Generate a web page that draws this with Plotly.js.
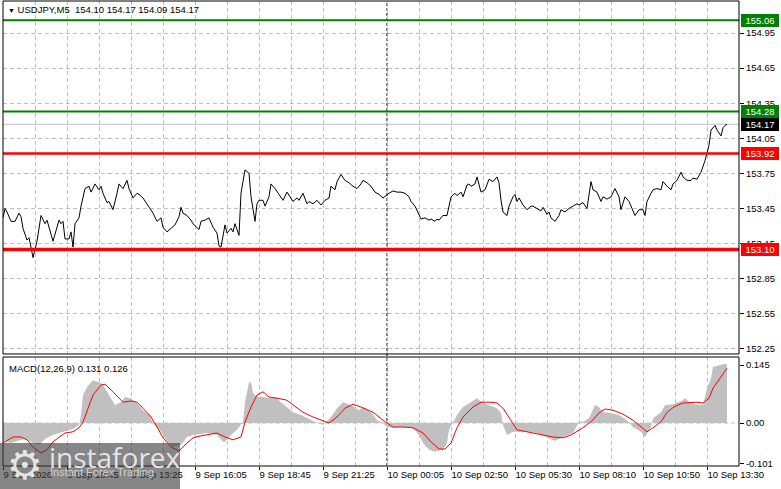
<!DOCTYPE html>
<html>
<head>
<meta charset="utf-8">
<script src="https://cdn.plot.ly/plotly-3.0.1.min.js"></script>
<style>
  html, body { margin: 0; padding: 0; background: #fff; }
  #chart { width: 781px; height: 489px; }
</style>
</head>
<body>
<div id="chart"></div>
<script>
// USDJPY M5 with MACD(12,26,9) underneath
// bars are counted from the first candle on screen (9 Sep 08:05)

const symbolTitle = 'USDJPY,M5  154.10 154.17 154.09 154.17';
const macdTitle = 'MACD(12,26,9) 0.131 0.126';

// close prices
const priceBar = [0, 1, 2, 4, 6, 8, 9, 10, 12, 13, 14, 15, 17, 18, 19, 21, 22, 24, 25, 28, 29, 30, 31, 33, 34, 35, 36, 38, 39, 41,
  43, 44, 46, 48, 49, 50, 52, 53, 55, 57, 58, 60, 62, 63, 65, 67, 68, 70, 72, 73, 75, 77, 79, 80, 82, 84, 86, 88, 89, 90,
  92, 94, 95, 98, 99, 101, 103, 105, 107, 108, 109, 111, 112, 114, 115, 116, 118, 119, 121, 123, 124, 126, 127, 128, 130, 131, 133, 134, 136, 138,
  140, 142, 144, 145, 147, 148, 150, 152, 153, 155, 157, 159, 161, 163, 164, 166, 167, 169, 171, 173, 175, 177, 179, 180, 182, 184, 186, 188, 190, 192,
  193, 195, 197, 199, 201, 203, 204, 206, 208, 209, 211, 213, 214, 216, 217, 218, 220, 222, 224, 226, 227, 229, 230, 232, 233, 234, 236, 237, 239, 241,
  243, 245, 247, 248, 249, 250, 252, 253, 255, 256, 257, 258, 260, 262, 264, 265, 267, 269, 270, 272, 273, 274, 276, 278, 279, 281, 283, 285, 287, 288,
  290, 292, 294, 295, 297, 299, 300, 302, 304, 306, 308, 309, 311, 313, 314, 316, 318, 320, 321, 322, 324, 325, 327, 329, 330, 332, 334, 335, 337, 339,
  340, 342, 344, 345, 347, 349, 351, 353, 354, 356, 357, 359, 360, 361, 362];
const priceClose = [153.37, 153.45, 153.42, 153.34, 153.34, 153.41, 153.38, 153.28, 153.18, 153.20, 153.12, 153.03, 153.17, 153.27, 153.39, 153.32, 153.35, 153.23, 153.17, 153.35, 153.32, 153.34, 153.19, 153.19, 153.25, 153.12, 153.32, 153.37, 153.47, 153.62,
  153.64, 153.59, 153.66, 153.61, 153.64, 153.58, 153.50, 153.51, 153.44, 153.58, 153.66, 153.62, 153.69, 153.62, 153.54, 153.58, 153.57, 153.54, 153.49, 153.47, 153.41, 153.34, 153.37, 153.29, 153.25, 153.28, 153.31, 153.38, 153.46, 153.41,
  153.39, 153.35, 153.32, 153.27, 153.34, 153.35, 153.37, 153.29, 153.24, 153.13, 153.12, 153.31, 153.24, 153.28, 153.25, 153.32, 153.22, 153.58, 153.78, 153.75, 153.55, 153.34, 153.49, 153.52, 153.52, 153.47, 153.55, 153.66, 153.62, 153.57,
  153.52, 153.59, 153.53, 153.51, 153.54, 153.52, 153.58, 153.49, 153.51, 153.49, 153.52, 153.48, 153.52, 153.54, 153.64, 153.61, 153.68, 153.74, 153.69, 153.67, 153.64, 153.62, 153.66, 153.69, 153.67, 153.64, 153.59, 153.57, 153.54, 153.57,
  153.58, 153.60, 153.59, 153.59, 153.58, 153.55, 153.51, 153.47, 153.39, 153.36, 153.37, 153.35, 153.36, 153.34, 153.36, 153.35, 153.39, 153.39, 153.55, 153.58, 153.56, 153.59, 153.55, 153.65, 153.66, 153.64, 153.66, 153.72, 153.59, 153.61,
  153.70, 153.68, 153.72, 153.67, 153.52, 153.42, 153.39, 153.47, 153.55, 153.57, 153.51, 153.54, 153.48, 153.44, 153.47, 153.47, 153.45, 153.43, 153.46, 153.40, 153.42, 153.37, 153.34, 153.39, 153.44, 153.42, 153.45, 153.47, 153.49, 153.48,
  153.50, 153.45, 153.68, 153.61, 153.59, 153.51, 153.55, 153.53, 153.55, 153.62, 153.55, 153.44, 153.55, 153.51, 153.47, 153.39, 153.44, 153.44, 153.39, 153.51, 153.58, 153.61, 153.62, 153.61, 153.68, 153.64, 153.61, 153.66, 153.69, 153.76,
  153.72, 153.69, 153.69, 153.71, 153.70, 153.76, 153.86, 153.99, 154.12, 154.16, 154.12, 154.07, 154.14, 154.16, 154.17];

// MACD main (histogram)
const histBar = [0, 4, 7, 11, 15, 18, 21, 25, 28, 31, 35, 38, 39, 40, 42, 45, 49, 51, 54, 56, 59, 61, 64, 67, 70, 73, 75, 79, 82, 85,
  89, 92, 95, 102, 107, 110, 111, 114, 117, 120, 121, 123, 124, 125, 127, 130, 134, 136, 139, 142, 145, 149, 152, 156, 160, 164, 167, 170, 174, 178,
  180, 184, 187, 190, 192, 195, 200, 205, 208, 210, 213, 216, 220, 222, 223, 225, 227, 230, 234, 237, 240, 243, 247, 249, 250, 252, 255, 257, 262, 267,
  272, 276, 280, 285, 288, 290, 293, 295, 296, 298, 300, 304, 308, 312, 315, 319, 321, 324, 325, 329, 331, 335, 340, 341, 344, 347, 350, 352, 354, 355,
  359, 361, 362];
const histValue = [-0.045, -0.05, -0.045, -0.04, -0.05, -0.055, -0.04, -0.03, -0.025, -0.02, -0.015, -0.005, 0.02, 0.07, 0.09, 0.107, 0.10, 0.087, 0.062, 0.045, 0.052, 0.065, 0.062, 0.05, 0.032, 0.02, 0, -0.022, -0.047, -0.06,
  -0.055, -0.035, -0.03, -0.025, -0.03, -0.047, -0.047, -0.03, -0.017, 0.003, 0.052, 0.102, 0.102, 0.075, 0.065, 0.065, 0.062, 0.065, 0.052, 0.04, 0.027, 0.02, 0.012, 0.003, -0.005, 0.015, 0.037, 0.052, 0.045, 0.032,
  0.04, 0.027, 0.007, 0, -0.01, -0.012, -0.01, -0.012, -0.03, -0.05, -0.067, -0.072, -0.067, -0.05, -0.017, 0, 0.02, 0.04, 0.052, 0.062, 0.05, 0.045, 0.037, 0.025, -0.005, -0.03, -0.022, -0.022, -0.022, -0.025,
  -0.035, -0.045, -0.035, -0.025, 0.003, 0.003, 0.012, 0.037, 0.045, 0.04, 0.027, 0.025, 0.02, 0.007, -0.01, -0.022, -0.035, -0.01, 0.012, 0.027, 0.045, 0.047, 0.057, 0.062, 0.05, 0.045, 0.045, 0.087, 0.112, 0.14,
  0.145, 0.148, 0.145];

// MACD signal line
const signalBar = [0, 3, 5, 9, 12, 15, 19, 22, 25, 29, 31, 35, 38, 40, 45, 49, 51, 55, 58, 60, 64, 67, 70, 74, 77, 80, 84, 88, 91, 95,
  99, 102, 107, 111, 115, 119, 121, 124, 127, 130, 133, 137, 142, 145, 150, 155, 159, 163, 167, 171, 175, 179, 185, 190, 195, 200, 205, 210, 214, 218,
  221, 224, 227, 230, 235, 239, 244, 247, 250, 254, 257, 262, 269, 275, 280, 284, 289, 294, 298, 301, 305, 310, 315, 319, 322, 325, 329, 332, 336, 340,
  344, 347, 350, 353, 355, 359, 362];
const signalValue = [-0.05, -0.042, -0.035, -0.035, -0.042, -0.06, -0.075, -0.067, -0.047, -0.032, -0.025, -0.022, -0.012, 0.0025, 0.07, 0.095, 0.097, 0.078, 0.062, 0.052, 0.055, 0.052, 0.037, 0.015, -0.01, -0.037, -0.06, -0.07, -0.055, -0.037,
  -0.032, -0.03, -0.025, -0.035, -0.042, -0.035, 0.0025, 0.04, 0.07, 0.078, 0.065, 0.062, 0.057, 0.045, 0.027, 0.015, 0.007, 0, 0.015, 0.037, 0.047, 0.04, 0.027, 0.007, -0.01, -0.01, -0.012, -0.025, -0.047, -0.065,
  -0.065, -0.05, -0.012, 0.015, 0.04, 0.052, 0.052, 0.05, 0.037, 0.007, -0.017, -0.022, -0.03, -0.035, -0.037, -0.03, -0.015, 0.003, 0.025, 0.035, 0.032, 0.022, 0.007, -0.01, -0.022, -0.012, 0.003, 0.027, 0.042, 0.05,
  0.052, 0.052, 0.05, 0.062, 0.087, 0.115, 0.137];

const timeTickBars = [0, 32, 64, 96, 128, 160, 192, 224, 256, 288, 320, 352];
const timeTickLabels = ['9 Sep 2026', '9 Sep 10:45', '9 Sep 13:25', '9 Sep 16:05', '9 Sep 18:45', '9 Sep 21:25',
  '10 Sep 00:05', '10 Sep 02:50', '10 Sep 05:30', '10 Sep 08:10', '10 Sep 10:50', '10 Sep 13:30'];
const daySeparatorBar = 192;

const priceTicks = [152.25, 152.55, 152.85, 153.15, 153.45, 153.75, 154.05, 154.35, 154.65, 154.95];
const macdTicks = [-0.101, 0, 0.145];
const macdTickLabels = ['-0.101', '0.00', '0.145'];

const resistanceLevels = [155.06, 154.28];
const supportLevels = [153.92, 153.10];
const lastPrice = 154.17;


const FONT = 'Liberation Sans, Arial, sans-serif';
const GRID = '#c0c0c0';
const DASH = '4px,3px';
const mainDomain = [0.2409, 1];
const macdDomain = [0, 0.2344];

let traces = [
  {
    x: histBar, y: histValue, type: 'scatter', mode: 'lines',
    fill: 'tozeroy', fillcolor: '#c0c0c0', line: {width: 0, color: '#c0c0c0'},
    xaxis: 'x', yaxis: 'y2', hoverinfo: 'skip'
  },
  {
    x: signalBar, y: signalValue, type: 'scatter', mode: 'lines',
    line: {width: 1, color: '#ff0000'},
    xaxis: 'x', yaxis: 'y2', hoverinfo: 'skip'
  },
  {
    x: priceBar, y: priceClose, type: 'scatter', mode: 'lines',
    line: {width: 1, color: '#000000'},
    xaxis: 'x', yaxis: 'y', hoverinfo: 'skip'
  }
];

let shapes = [];
let annotations = [];

// day separator
shapes.push({type: 'line', xref: 'x', yref: 'paper', x0: daySeparatorBar, x1: daySeparatorBar, y0: 0, y1: 1,
  line: {color: '#000', width: 1, dash: '3px,2px'}, layer: 'between'});

// zero line of the MACD window
shapes.push({type: 'line', xref: 'paper', yref: 'y2', x0: 0, x1: 1, y0: 0, y1: 0,
  line: {color: GRID, width: 1, dash: DASH}, layer: 'below'});

// current price line
shapes.push({type: 'line', xref: 'paper', yref: 'y', x0: 0, x1: 1, y0: lastPrice, y1: lastPrice,
  line: {color: '#c0c0c0', width: 1}, layer: 'between'});

// horizontal levels with their price boxes
function addLevel(price, color, width) {
  shapes.push({type: 'line', xref: 'paper', yref: 'y', x0: 0, x1: 1, y0: price, y1: price,
    line: {color: color, width: width}, layer: 'above'});
  annotations.push({xref: 'paper', yref: 'y', x: 1, y: price, xanchor: 'left', yanchor: 'middle', xshift: 2,
    text: price.toFixed(2), showarrow: false, bgcolor: color, borderwidth: 0, borderpad: 0,
    width: 38, height: 13, align: 'center', font: {family: FONT, size: 9.5, color: '#fff'}});
}
resistanceLevels.forEach(p => addLevel(p, '#008000', 2));
addLevel(supportLevels[0], '#ff0000', 2.5);
addLevel(supportLevels[1], '#ff0000', 3.5);
annotations.push({xref: 'paper', yref: 'y', x: 1, y: lastPrice, xanchor: 'left', yanchor: 'middle', xshift: 2,
  text: lastPrice.toFixed(2), showarrow: false, bgcolor: '#000', borderwidth: 0, borderpad: 0,
  width: 38, height: 13, align: 'center', font: {family: FONT, size: 9.5, color: '#fff'}});

// window frames
shapes.push({type: 'rect', xref: 'paper', yref: 'paper', x0: 0, x1: 1, y0: mainDomain[0], y1: mainDomain[1],
  line: {color: '#000', width: 1}, fillcolor: 'rgba(0,0,0,0)', layer: 'above'});
shapes.push({type: 'rect', xref: 'paper', yref: 'paper', x0: 0, x1: 1, y0: macdDomain[0], y1: macdDomain[1],
  line: {color: '#000', width: 1}, fillcolor: 'rgba(0,0,0,0)', layer: 'above'});

// instaforex watermark box
shapes.push({type: 'rect', xref: 'paper', yref: 'paper', x0: -0.0041, x1: 0.2405, y0: -0.0495, y1: 0.0495,
  line: {width: 0}, fillcolor: 'rgba(60,60,60,0.62)', layer: 'above'});
annotations.push({xref: 'paper', yref: 'paper', x: 0.0299, y: 0.002, xanchor: 'center', yanchor: 'middle',
  text: '⚙', showarrow: false, font: {family: 'DejaVu Sans', size: 40, color: 'rgba(236,236,236,0.95)'}});
annotations.push({xref: 'paper', yref: 'paper', x: 0.0598, y: 0.0194, xanchor: 'left', yanchor: 'middle',
  text: 'instaforex', showarrow: false, font: {family: 'Open Sans', size: 28, color: 'rgba(236,236,236,0.95)'}});
annotations.push({xref: 'paper', yref: 'paper', x: 0.0611, y: -0.0129, xanchor: 'left', yanchor: 'middle',
  text: 'Instant Forex Trading', showarrow: false, font: {family: FONT, size: 11, color: 'rgba(220,220,220,0.9)'}});

// window titles
annotations.push({xref: 'paper', yref: 'paper', x: 0, y: 1, xanchor: 'left', yanchor: 'top', xshift: 3, yshift: -1,
  text: '<span style="font-size:7px">▼</span> ' + symbolTitle, showarrow: false,
  font: {family: FONT, size: 9.5, color: '#000'}});
annotations.push({xref: 'paper', yref: 'paper', x: 0, y: macdDomain[1], xanchor: 'left', yanchor: 'top', xshift: 4, yshift: -4,
  text: macdTitle, showarrow: false, font: {family: FONT, size: 9.5, color: '#000'}});

let layout = {
  width: 781,
  height: 489,
  margin: {l: 3, r: 42, t: 1, b: 23},
  paper_bgcolor: '#ffffff',
  plot_bgcolor: '#ffffff',
  showlegend: false,
  hovermode: false,
  font: {family: FONT, size: 9.5, color: '#000'},
  xaxis: {
    anchor: 'y2',
    range: [0, 368],
    tickmode: 'array',
    tickvals: timeTickBars,
    ticktext: timeTickLabels,
    tickangle: 0,
    ticks: 'outside', ticklen: 3, tickcolor: '#000',
    ticklabelposition: 'outside right',
    showgrid: true, gridcolor: GRID, griddash: DASH, gridwidth: 1,
    minor: {tickmode: 'linear', tick0: 0, dtick: 16, showgrid: true, gridcolor: GRID, griddash: DASH, ticks: ''},
    zeroline: false, showline: false, fixedrange: true
  },
  yaxis: {
    domain: mainDomain,
    anchor: 'x',
    side: 'right',
    range: [152.2064, 155.2235],
    tickmode: 'array',
    tickvals: priceTicks,
    ticktext: priceTicks.map(v => v.toFixed(2)),
    ticks: 'outside', ticklen: 4, tickcolor: '#000',
    showgrid: true, gridcolor: GRID, griddash: DASH,
    zeroline: false, showline: false, fixedrange: true
  },
  yaxis2: {
    domain: macdDomain,
    anchor: 'x',
    side: 'right',
    range: [-0.1075, 0.165],
    tickmode: 'array',
    tickvals: macdTicks,
    ticktext: macdTickLabels,
    ticks: 'outside', ticklen: 4, tickcolor: '#000',
    showgrid: false, zeroline: false, showline: false, fixedrange: true
  },
  shapes: shapes,
  annotations: annotations
};

Plotly.newPlot('chart', traces, layout, {staticPlot: true, displayModeBar: false});
</script>
</body>
</html>
